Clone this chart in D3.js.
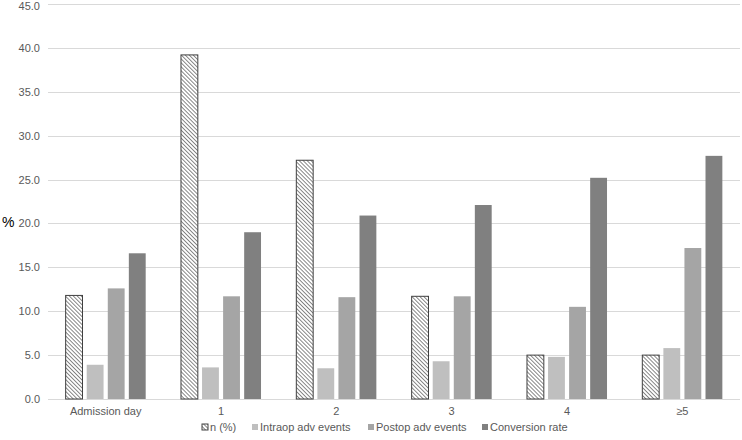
<!DOCTYPE html>
<html>
<head>
<meta charset="utf-8">
<script src="https://cdn.jsdelivr.net/npm/d3@7"></script>
<style>
  html, body { margin: 0; padding: 0; background: #fff; }
  svg { display: block; font-family: "Liberation Sans", Arial, sans-serif; }
</style>
</head>
<body>
<svg id="chart" width="742" height="440"></svg>
<script>
const categories = ['Admission day', '1', '2', '3', '4', '≥5'];
const seriesNames = ['n (%)', 'Intraop adv events', 'Postop adv events', 'Conversion rate'];
const nPct     = [11.8, 39.2, 27.2, 11.7, 5.0, 5.0];
const intraop  = [3.9, 3.6, 3.5, 4.3, 4.8, 5.8];
const postop   = [12.6, 11.7, 11.6, 11.7, 10.5, 17.2];
const conv     = [16.6, 19.0, 20.9, 22.1, 25.2, 27.7];
const yTicks   = [0, 5, 10, 15, 20, 25, 30, 35, 40, 45];

const seriesValues = [nPct, intraop, postop, conv];
const fills = ['url(#hatch)', '#bfbfbf', '#a5a5a5', '#808080'];

const W = 742, H = 440;
const margin = { top: 4, right: 2, bottom: 41, left: 48 };

const svg = d3.select('#chart');
const defs = svg.append('defs');
// fine hatch, lines running down-right
const pat = defs.append('pattern')
  .attr('id', 'hatch')
  .attr('patternUnits', 'userSpaceOnUse')
  .attr('width', 2.8).attr('height', 2.8)
  .attr('patternTransform', 'rotate(-45)');
pat.append('rect').attr('width', 2.8).attr('height', 2.8).attr('fill', '#fff');
pat.append('line').attr('x1', 0).attr('y1', 0).attr('x2', 0).attr('y2', 2.8)
  .attr('stroke', '#3a3a3a').attr('stroke-width', 1.2);

const x0 = d3.scaleBand()
  .domain(categories)
  .range([margin.left, W - margin.right])
  .paddingInner(0.306)
  .paddingOuter(0.153);

const x1 = d3.scaleBand()
  .domain(d3.range(seriesNames.length))
  .range([0, x0.bandwidth()])
  .paddingInner(0.2)
  .paddingOuter(0);

const y = d3.scaleLinear()
  .domain([0, 45])
  .range([H - margin.bottom, margin.top]);

// gridlines
svg.append('g')
  .selectAll('line').data(yTicks).join('line')
  .attr('x1', margin.left).attr('x2', W - margin.right)
  .attr('y1', d => Math.round(y(d)) + 0.5).attr('y2', d => Math.round(y(d)) + 0.5)
  .attr('stroke', '#d9d9d9').attr('stroke-width', 1);

// y labels
svg.append('g')
  .selectAll('text').data(yTicks).join('text')
  .attr('x', 40).attr('y', d => Math.max(y(d) + 4, 10))
  .attr('text-anchor', 'end')
  .attr('font-size', 11).attr('fill', '#595959')
  .text(d => d.toFixed(1));

svg.append('text')
  .attr('x', 2).attr('y', 227)
  .attr('font-size', 14).attr('fill', '#000')
  .text('%');

// bars
const groups = svg.append('g')
  .selectAll('g').data(categories).join('g')
  .attr('transform', d => `translate(${x0(d)},0)`);

groups.selectAll('rect')
  .data((c, i) => seriesValues.map((vals, s) => ({ s, v: vals[i] })))
  .join('rect')
  .attr('x', d => x1(d.s))
  .attr('width', x1.bandwidth())
  .attr('y', d => y(d.v))
  .attr('height', d => y(0) - y(d.v))
  .attr('fill', d => fills[d.s])
  .attr('stroke', d => d.s === 0 ? '#404040' : 'none')
  .attr('stroke-width', 1);

// x labels
svg.append('g')
  .selectAll('text').data(categories).join('text')
  .attr('x', d => x0(d) + x0.bandwidth() / 2)
  .attr('y', 415)
  .attr('text-anchor', 'middle')
  .attr('font-size', 11).attr('fill', '#595959')
  .text(d => d);

// legend
const legendX = [202, 252, 368, 482];
const leg = svg.append('g')
  .selectAll('g').data(seriesNames).join('g')
  .attr('transform', (d, i) => `translate(${legendX[i]},431)`);
leg.append('rect')
  .attr('x', 0).attr('y', -7).attr('width', 6).attr('height', 6)
  .attr('fill', (d, i) => fills[i])
  .attr('stroke', (d, i) => i === 0 ? '#404040' : 'none');
leg.append('text')
  .attr('x', 8).attr('y', 0)
  .attr('font-size', 11).attr('fill', '#595959')
  .text(d => d);
</script>
</body>
</html>
